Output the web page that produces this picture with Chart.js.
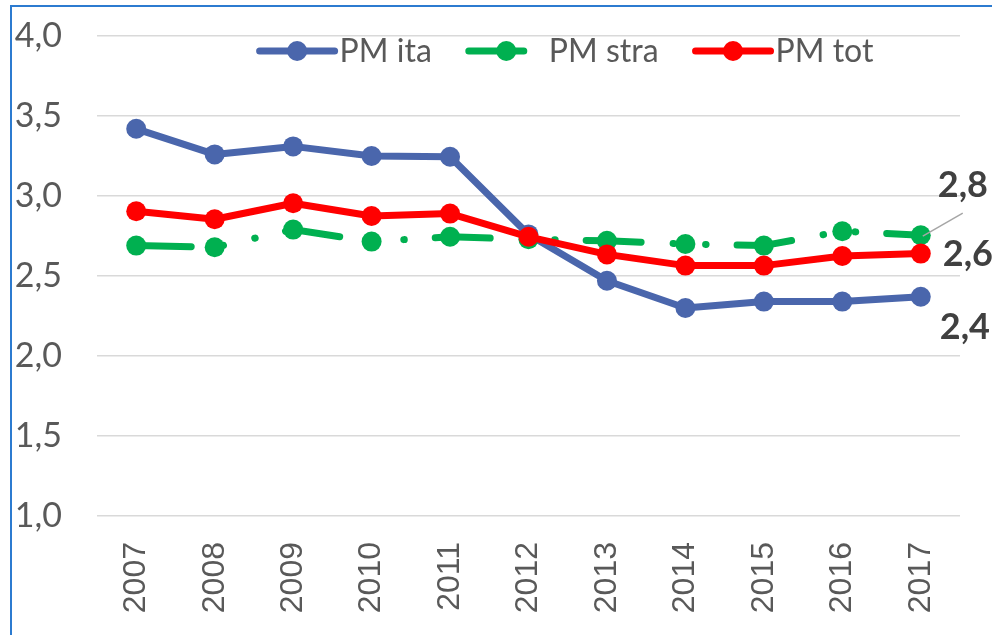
<!DOCTYPE html>
<html lang="it">
<head>
    <meta charset="UTF-8">
    <title>PM ita / stra / tot</title>
    <style>
        html, body { margin: 0; padding: 0; background: #fff; overflow: hidden; }
        #wrap { position: relative; width: 992px; height: 635px; }
        #frame { position: absolute; left: 10px; top: 5px; width: 1100px; height: 800px; border: 2px solid #2C7BD0; pointer-events: none; }
    </style>
</head>
<body>
    <div id="wrap">
        <canvas id="pm-chart" width="992" height="635"></canvas>
        <div id="frame"></div>
    </div>
    <script src="https://cdn.jsdelivr.net/npm/chart.js"></script>
    <script>
        // values
        const years = ['2007', '2008', '2009', '2010', '2011', '2012', '2013', '2014', '2015', '2016', '2017'];
        const pmIta = [3.42, 3.26, 3.31, 3.25, 3.245, 2.76, 2.47, 2.30, 2.34, 2.34, 2.37];
        const pmStra = [2.69, 2.68, 2.79, 2.715, 2.745, 2.73, 2.72, 2.70, 2.69, 2.78, 2.755];
        const pmTot = [2.905, 2.855, 2.955, 2.875, 2.89, 2.745, 2.635, 2.565, 2.565, 2.625, 2.64];
        const seriesNames = ['PM ita', 'PM stra', 'PM tot'];
        const yMin = 1.0;
        const yMax = 4.0;
        const yStep = 0.5;

        const blue = '#4A66AC';
        const green = '#00B050';
        const red = '#FF0000';
        const straDash = [55, 32, 0.5, 32, 0.5, 31];

        const comma = v => v.toFixed(1).replace('.', ',');

        // label offsets from the last point of each series (px)
        const endLabels = [
            { ds: 1, dx: 17, dy: -50, leader: true },
            { ds: 2, dx: 22, dy: 1 },
            { ds: 0, dx: 19, dy: 31 }
        ];

        const extras = {
            id: 'extras',
            afterDatasetsDraw(chart) {
                const c = chart.ctx;
                const xs = chart.scales.x, ys = chart.scales.y;
                const last = years.length - 1;
                c.save();
                endLabels.forEach(l => {
                    const v = chart.data.datasets[l.ds].data[last];
                    const px = xs.getPixelForValue(last);
                    const py = ys.getPixelForValue(v);
                    if (l.leader) {
                        c.strokeStyle = '#A6A6A6';
                        c.lineWidth = 1.5;
                        c.beginPath();
                        c.moveTo(px + 2, py + 1);
                        c.lineTo(px + 42, py - 22);
                        c.stroke();
                    }
                    c.font = 'bold 36px Lato';
                    c.fillStyle = '#404040';
                    c.textAlign = 'left';
                    c.textBaseline = 'middle';
                    c.fillText(comma(v), px + l.dx, py + l.dy);
                });

                // legend inside the plot, Excel style (line + marker)
                const area = chart.chartArea;
                const lineLen = 75, gapText = 5, gapItem = 37;
                c.font = '32px Lato';
                const widths = seriesNames.map(n => c.measureText(n).width);
                let total = 0;
                widths.forEach((w, i) => { total += lineLen + gapText + w + (i < widths.length - 1 ? gapItem : 0); });
                let x = (area.left + area.right) / 2 + 38 - total / 2;
                const y = area.top + 15;
                chart.data.datasets.forEach((ds, i) => {
                    c.strokeStyle = ds.borderColor;
                    c.lineWidth = 7;
                    c.lineCap = 'round';
                    c.setLineDash(ds.borderDash || []);
                    c.beginPath();
                    c.moveTo(x, y);
                    c.lineTo(x + lineLen, y);
                    c.stroke();
                    c.setLineDash([]);
                    c.fillStyle = ds.borderColor;
                    c.beginPath();
                    c.arc(x + lineLen / 2, y, 10, 0, Math.PI * 2);
                    c.fill();
                    c.fillStyle = '#595959';
                    c.textAlign = 'left';
                    c.textBaseline = 'middle';
                    c.fillText(seriesNames[i], x + lineLen + gapText, y + 1);
                    x += lineLen + gapText + widths[i] + gapItem;
                });
                c.restore();
            }
        };

        const ctx = document.getElementById('pm-chart').getContext('2d');
        const pmChart = new Chart(ctx, {
            type: 'line',
            data: {
                labels: years,
                datasets: [
                    {
                        label: seriesNames[0],
                        data: pmIta,
                        borderColor: blue,
                        backgroundColor: blue,
                        pointBackgroundColor: blue,
                        borderWidth: 7,
                        pointRadius: 10,
                        pointBorderWidth: 0,
                        borderJoinStyle: 'round',
                        order: 3
                    },
                    {
                        label: seriesNames[1],
                        data: pmStra,
                        borderColor: green,
                        backgroundColor: green,
                        pointBackgroundColor: green,
                        borderWidth: 7,
                        borderDash: straDash,
                        borderCapStyle: 'round',
                        pointRadius: 10,
                        pointBorderWidth: 0,
                        order: 2
                    },
                    {
                        label: seriesNames[2],
                        data: pmTot,
                        borderColor: red,
                        backgroundColor: red,
                        pointBackgroundColor: red,
                        borderWidth: 7,
                        pointRadius: 10,
                        pointBorderWidth: 0,
                        borderJoinStyle: 'round',
                        order: 1
                    }
                ]
            },
            options: {
                responsive: false,
                animation: false,
                devicePixelRatio: 1,
                layout: { padding: { left: 0, right: 32, top: 36, bottom: 0 } },
                plugins: {
                    legend: { display: false },
                    tooltip: { enabled: false }
                },
                scales: {
                    x: {
                        offset: true,
                        grid: { display: false, drawTicks: false },
                        border: { display: false },
                        ticks: {
                            minRotation: 90,
                            maxRotation: 90,
                            padding: 26,
                            color: '#595959',
                            font: { family: 'Liberation Sans', size: 32 }
                        },
                        afterFit: s => {
                            s.height = 119;
                            s.paddingLeft = 0;
                            s.paddingRight = 0;
                        }
                    },
                    y: {
                        min: yMin,
                        max: yMax,
                        grid: { color: '#D9D9D9', lineWidth: 1.5, drawTicks: false },
                        border: { display: false },
                        ticks: {
                            stepSize: yStep,
                            padding: 35,
                            color: '#595959',
                            font: { family: 'Lato', size: 34 },
                            callback: v => comma(v)
                        },
                        afterFit: s => {
                            s.width = 97;
                            s.paddingTop = 0;
                            s.paddingBottom = 0;
                        }
                    }
                }
            },
            plugins: [extras]
        });
    </script>
</body>
</html>
